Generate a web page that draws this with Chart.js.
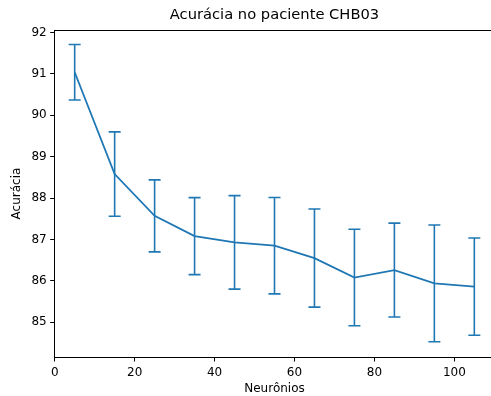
<!DOCTYPE html>
<html>
<head>
<meta charset="utf-8">
<script src="https://cdn.jsdelivr.net/npm/chart.js@4"></script>
<style>
  html, body { margin: 0; padding: 0; background: #fff; overflow: hidden; }
  #wrap { width: 491px; height: 396px; overflow: hidden; }
  canvas { display: block; }
</style>
</head>
<body>
<div id="wrap"><canvas id="c" width="549" height="396"></canvas></div>
<script>
// Number of neurons tested
const neurons = [5, 15, 25, 35, 45, 55, 65, 75, 85, 95, 105];
// Mean accuracy (%) for each configuration
const accuracy = [91.04, 88.58, 87.57, 87.08, 86.93, 86.85, 86.55, 86.08, 86.26, 85.94, 85.86];
// Standard deviation shown as error bars
const stdDev = [0.67, 1.02, 0.87, 0.93, 1.13, 1.165, 1.185, 1.165, 1.135, 1.41, 1.175];
// Tick labels
const xTicks = [0, 20, 40, 60, 80, 100];
const yTicks = [85, 86, 87, 88, 89, 90, 91, 92];

const BLUE = '#1f77b4';
const FONT = 'DejaVu Sans';

// Vertical error bars with caps, placed through the chart's scales
const errorBars = {
  id: 'errorBars',
  afterDatasetsDraw(chart) {
    const { ctx, scales: { x, y } } = chart;
    ctx.save();
    ctx.strokeStyle = BLUE;
    ctx.lineWidth = 1.6;
    neurons.forEach((n, i) => {
      const px = x.getPixelForValue(n);
      const top = y.getPixelForValue(accuracy[i] + stdDev[i]);
      const bot = y.getPixelForValue(accuracy[i] - stdDev[i]);
      ctx.beginPath();
      ctx.moveTo(px, top); ctx.lineTo(px, bot);
      ctx.moveTo(px - 6, top); ctx.lineTo(px + 6, top);
      ctx.moveTo(px - 6, bot); ctx.lineTo(px + 6, bot);
      ctx.stroke();
    });
    ctx.restore();
  }
};

// Top frame line of the plot area
const frame = {
  id: 'frame',
  afterDraw(chart) {
    const { ctx, chartArea: a } = chart;
    ctx.save();
    ctx.fillStyle = '#000';
    ctx.fillRect(a.left, Math.round(a.top), a.right - a.left, 1);
    ctx.restore();
  }
};

new Chart(document.getElementById('c'), {
  type: 'line',
  data: {
    datasets: [{
      data: neurons.map((n, i) => ({ x: n, y: accuracy[i] })),
      borderColor: BLUE,
      borderWidth: 1.8,
      pointRadius: 0,
      tension: 0,
      fill: false
    }]
  },
  options: {
    responsive: false,
    animation: false,
    devicePixelRatio: 1,
    layout: { padding: { left: 0, right: 54.7, top: 0, bottom: 0 } },
    plugins: {
      legend: { display: false },
      tooltip: { enabled: false },
      title: {
        display: true,
        fullSize: false,
        text: 'Acurácia no paciente CHB03',
        color: '#000',
        font: { family: FONT, size: 14.7, weight: 'normal', lineHeight: 1.2 },
        padding: { top: 6.5, bottom: 5.9 }
      }
    },
    scales: {
      x: {
        type: 'linear',
        min: 0,
        max: 110,
        afterBuildTicks(s) { s.ticks = xTicks.map(v => ({ value: v })); },
        afterFit(s) { s.height = 39; },
        ticks: {
          color: '#000',
          font: { family: FONT, size: 12 },
          padding: 4.5,
          maxRotation: 0,
          callback: v => String(v)
        },
        grid: { display: true, drawOnChartArea: false, drawTicks: true, tickLength: 4.5, tickColor: '#000', tickWidth: 1 },
        border: { display: true, color: '#000', width: 1 },
        title: {
          display: true,
          text: 'Neurônios',
          color: '#000',
          font: { family: FONT, size: 12, lineHeight: 1.2 },
          padding: { top: 0, bottom: 0.3 }
        }
      },
      y: {
        type: 'linear',
        min: 84.16,
        max: 92.06,
        afterBuildTicks(s) { s.ticks = yTicks.map(v => ({ value: v })); },
        afterFit(s) { s.width = 54.7; },
        ticks: {
          color: '#000',
          font: { family: FONT, size: 12 },
          padding: 3.5,
          callback: v => String(v)
        },
        grid: { display: true, drawOnChartArea: false, drawTicks: true, tickLength: 4.5, tickColor: '#000', tickWidth: 1 },
        border: { display: true, color: '#000', width: 1 },
        title: {
          display: true,
          text: 'Acurácia',
          color: '#000',
          font: { family: FONT, size: 12, lineHeight: 1.2 },
          padding: { top: 9.5, bottom: 0 }
        }
      }
    }
  },
  plugins: [errorBars, frame]
});
</script>
</body>
</html>
